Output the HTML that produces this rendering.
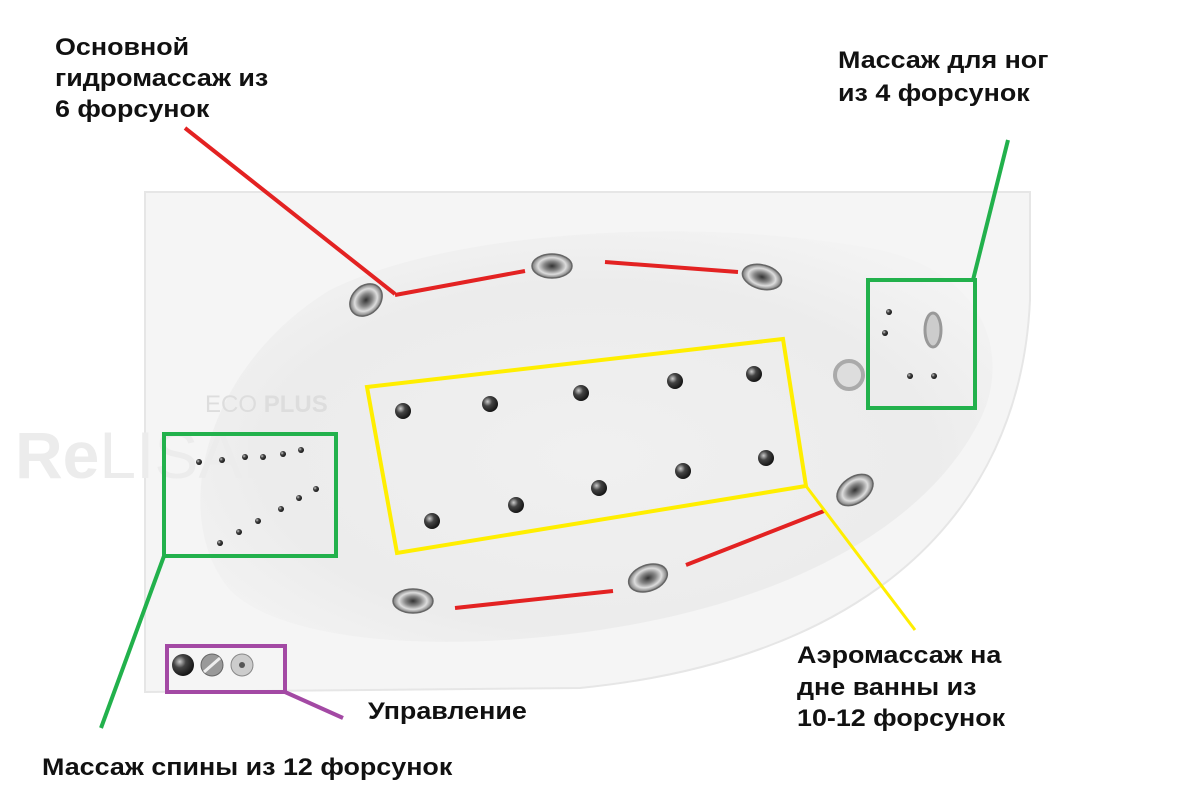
<!DOCTYPE html>
<html><head><meta charset="utf-8"><style>
body{margin:0;background:#fff;width:1200px;height:800px;overflow:hidden}
svg{display:block}
text.l{font-family:"Liberation Sans","DejaVu Sans",sans-serif;font-weight:bold;font-size:24px;fill:#111}
</style></head><body>
<svg width="1200" height="800" viewBox="0 0 1200 800">
<defs>
<radialGradient id="bas" cx="0.5" cy="0.55" r="0.6"><stop offset="0" stop-color="#f0f0f0"/><stop offset="0.7" stop-color="#ececec"/><stop offset="1" stop-color="#f3f3f3"/></radialGradient>
<radialGradient id="dot" cx="0.35" cy="0.35" r="0.7"><stop offset="0" stop-color="#ccc"/><stop offset="0.4" stop-color="#444"/><stop offset="1" stop-color="#111"/></radialGradient>
<radialGradient id="jet" cx="0.5" cy="0.5" r="0.5"><stop offset="0" stop-color="#333"/><stop offset="0.4" stop-color="#888"/><stop offset="0.7" stop-color="#ddd"/><stop offset="1" stop-color="#777"/></radialGradient>
</defs>
<path d="M145,192 L1030,192 L1030,300 C1020,520 860,660 580,688 L145,692 Z" fill="#f5f5f5" stroke="#e6e6e6" stroke-width="2"/>
<path d="M330,290 C450,230 700,215 880,250 C990,275 1010,360 980,420 C930,520 800,600 600,630 C430,655 280,640 230,590 C170,520 200,370 330,290 Z" fill="url(#bas)"/>
<text x="205" y="412" font-family="Liberation Sans,sans-serif" font-size="24" fill="#ddd">ECO <tspan font-weight="bold">PLUS</tspan></text>
<text x="15" y="478" font-family="Liberation Sans,sans-serif" font-size="66" font-weight="bold" fill="#ececec">Re<tspan font-weight="normal">LISAN</tspan></text>
<g fill="url(#dot)">
<circle cx="403" cy="411" r="8"/><circle cx="490" cy="404" r="8"/><circle cx="581" cy="393" r="8"/><circle cx="675" cy="381" r="8"/><circle cx="754" cy="374" r="8"/>
<circle cx="432" cy="521" r="8"/><circle cx="516" cy="505" r="8"/><circle cx="599" cy="488" r="8"/><circle cx="683" cy="471" r="8"/><circle cx="766" cy="458" r="8"/>
<circle cx="199" cy="462" r="3"/><circle cx="222" cy="460" r="3"/><circle cx="245" cy="457" r="3"/><circle cx="263" cy="457" r="3"/><circle cx="283" cy="454" r="3"/><circle cx="301" cy="450" r="3"/>
<circle cx="316" cy="489" r="3"/><circle cx="299" cy="498" r="3"/><circle cx="281" cy="509" r="3"/><circle cx="258" cy="521" r="3"/><circle cx="239" cy="532" r="3"/><circle cx="220" cy="543" r="3"/>
<circle cx="889" cy="312" r="3"/><circle cx="885" cy="333" r="3"/><circle cx="910" cy="376" r="3"/><circle cx="934" cy="376" r="3"/>
</g>
<ellipse cx="933" cy="330" rx="8" ry="17" fill="#ccc" stroke="#999" stroke-width="3"/>
<circle cx="849" cy="375" r="14" fill="#ddd" stroke="#aaa" stroke-width="4"/>
<g fill="url(#jet)" stroke="#666" stroke-width="1.5">
<ellipse cx="366" cy="300" rx="18" ry="14" transform="rotate(-45 366 300)"/>
<ellipse cx="552" cy="266" rx="20" ry="12"/>
<ellipse cx="762" cy="277" rx="20" ry="12" transform="rotate(15 762 277)"/>
<ellipse cx="855" cy="490" rx="20" ry="13" transform="rotate(-35 855 490)"/>
<ellipse cx="648" cy="578" rx="20" ry="13" transform="rotate(-20 648 578)"/>
<ellipse cx="413" cy="601" rx="20" ry="12"/>
</g>
<circle cx="183" cy="665" r="11" fill="url(#dot)"/>
<circle cx="212" cy="665" r="11" fill="#999" stroke="#666"/>
<line x1="204" y1="672" x2="220" y2="658" stroke="#eee" stroke-width="3"/>
<circle cx="242" cy="665" r="11" fill="#ccc" stroke="#888"/><circle cx="242" cy="665" r="3" fill="#555"/>
<g stroke="#e32222" stroke-width="4" fill="none">
<line x1="185" y1="128" x2="395" y2="294"/><line x1="395" y1="295" x2="525" y2="271"/>
<line x1="605" y1="262" x2="738" y2="272"/><line x1="824" y1="511" x2="686" y2="565"/>
<line x1="613" y1="591" x2="455" y2="608"/>
</g>
<g stroke="#22b14c" stroke-width="4" fill="none">
<rect x="868" y="280" width="107" height="128"/><rect x="164" y="434" width="172" height="122"/>
<line x1="1008" y1="140" x2="973" y2="280"/><line x1="164" y1="556" x2="101" y2="728"/>
</g>
<g stroke="#ffee00" stroke-width="4" fill="none">
<polygon points="367,387 783,339 806,486 397,553"/>
<line x1="806" y1="486" x2="915" y2="630" stroke-width="3"/>
</g>
<g stroke="#a349a4" stroke-width="4" fill="none">
<rect x="167" y="646" width="118" height="46"/><line x1="285" y1="692" x2="343" y2="718"/>
</g>
<g transform="translate(55,0) scale(1.12,1)">
<text class="l" x="0" y="55">Основной</text>
<text class="l" x="0" y="86">гидромассаж из</text>
<text class="l" x="0" y="117">6 форсунок</text>
</g>
<g transform="translate(838,0) scale(1.12,1)">
<text class="l" x="0" y="68">Массаж для ног</text>
<text class="l" x="0" y="101">из 4 форсунок</text>
</g>
<g transform="translate(797,0) scale(1.12,1)">
<text class="l" x="0" y="663">Аэромассаж на</text>
<text class="l" x="0" y="695">дне ванны из</text>
<text class="l" x="0" y="726">10-12 форсунок</text>
</g>
<g transform="translate(368,0) scale(1.12,1)"><text class="l" x="0" y="719">Управление</text></g>
<g transform="translate(42,0) scale(1.12,1)"><text class="l" x="0" y="775">Массаж спины из 12 форсунок</text></g>
</svg>
</body></html>
